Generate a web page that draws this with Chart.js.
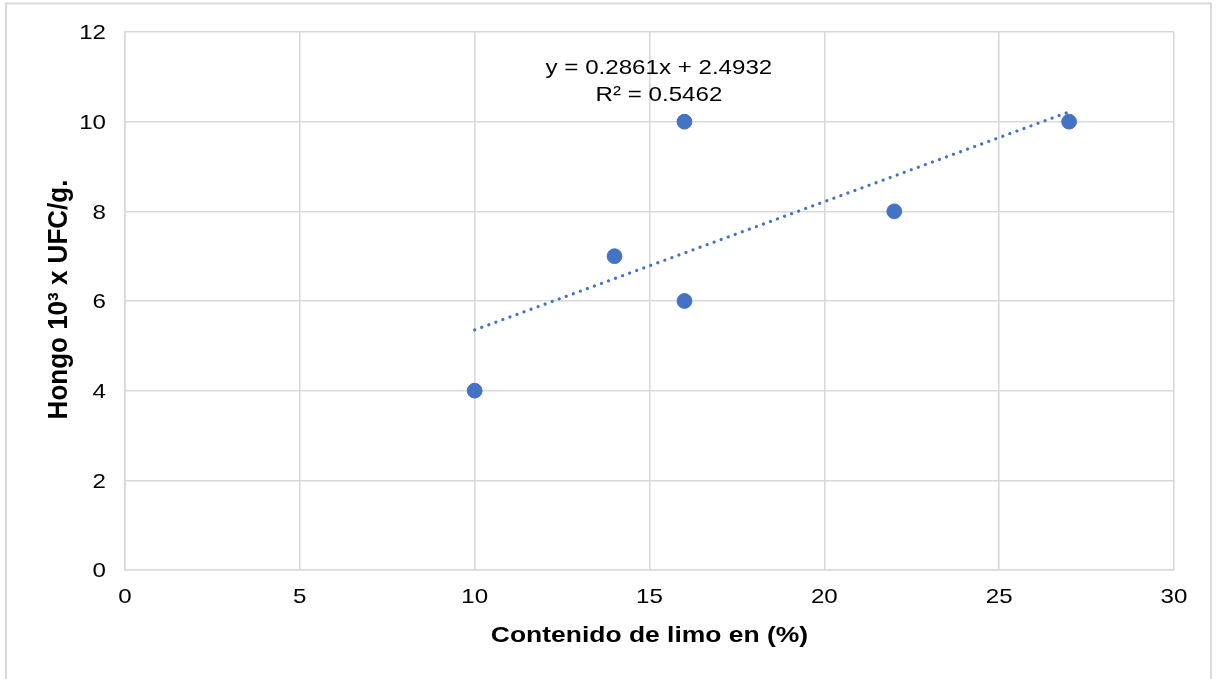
<!DOCTYPE html>
<html>
<head>
<meta charset="utf-8">
<title>Hongo vs limo</title>
<script src="https://cdn.jsdelivr.net/npm/chart.js@4"></script>
<style>
  html, body { margin: 0; padding: 0; background: #ffffff; }
  #wrap { position: relative; width: 1216px; height: 679px; }
</style>
</head>
<body>
<div id="wrap"><canvas id="c" width="1216" height="679"></canvas></div>
<script>
// Contenido de limo (%) and fungal counts (10^3 UFC/g)
const limo = [10, 14, 16, 16, 22, 27];
const hongo = [4, 7, 6, 10, 8, 10];

// Linear trendline reported for the series
const slope = 0.2861;
const intercept = 2.4932;
const r2 = 0.5462;
const trendX = [10, 27];

// Axis ranges and tick steps
const xRange = [0, 30];
const xStep = 5;
const yRange = [0, 12];
const yStep = 2;

// Axis titles
const xTitle = 'Contenido de limo en (%)';
const yTitle = 'Hongo 10³ x UFC/g.';

const blue = '#4472C4';
const gridColor = '#d9d9d9';
const txt = '#000000';
const fontFam = '"Liberation Sans", Arial, sans-serif';
const wide = 1.16;          // horizontal widening of the lettering
const tickPx = 20.8;
const titlePx = 22.8;

const scatterData = limo.map((x, i) => ({ x: x, y: hongo[i] }));
const trendData = trendX.map(x => ({ x: x, y: slope * x + intercept }));

// Writes a line of text whose visual centre line sits at y
function wideText(ctx, str, x, y, px, bold, align) {
  ctx.save();
  ctx.font = (bold ? 'bold ' : '') + px + 'px ' + fontFam;
  ctx.fillStyle = txt;
  ctx.textBaseline = 'alphabetic';
  ctx.textAlign = align || 'center';
  ctx.translate(x, y + px * 0.358);
  ctx.scale(wide, 1);
  ctx.fillText(str, 0, 0);
  ctx.restore();
}

// Frame around the whole chart
const framePlugin = {
  id: 'frame',
  afterDraw(chart) {
    const ctx = chart.ctx;
    ctx.save();
    ctx.strokeStyle = gridColor;
    ctx.lineWidth = 2;
    ctx.strokeRect(6, 3.5, 1205, 700);
    ctx.restore();
  }
};

// Tick labels and axis titles, placed from the chart's scales
const axisTextPlugin = {
  id: 'axisText',
  afterDraw(chart) {
    const ctx = chart.ctx;
    const xs = chart.scales.x, ys = chart.scales.y;
    const area = chart.chartArea;
    xs.ticks.forEach(t => {
      wideText(ctx, String(t.value), xs.getPixelForValue(t.value), area.bottom + 25.5, tickPx, false, 'center');
    });
    ys.ticks.forEach(t => {
      wideText(ctx, String(t.value), area.left - 19, ys.getPixelForValue(t.value), tickPx, false, 'right');
    });
    wideText(ctx, xTitle, (area.left + area.right) / 2, 634, titlePx, true, 'center');

    // vertical title: rotated, lettering widened across its height
    ctx.save();
    ctx.font = 'bold 26px ' + fontFam;
    ctx.fillStyle = txt;
    ctx.textAlign = 'center';
    ctx.textBaseline = 'alphabetic';
    ctx.translate(57, 299.5);
    ctx.rotate(-Math.PI / 2);
    ctx.scale(1, 1.06);
    ctx.fillText(yTitle, 0, 26 * 0.358);
    ctx.restore();
  }
};

// Equation and R² label
const eqPlugin = {
  id: 'equation',
  afterDatasetsDraw(chart) {
    const ctx = chart.ctx;
    const xs = chart.scales.x, ys = chart.scales.y;
    const cx = xs.getPixelForValue(15.27);
    const y1 = ys.getPixelForValue(11.235);
    wideText(ctx, 'y = ' + slope.toFixed(4) + 'x + ' + intercept.toFixed(4), cx, y1, tickPx, false, 'center');
    wideText(ctx, 'R² = ' + r2.toFixed(4), cx, y1 + 27, tickPx, false, 'center');
  }
};

new Chart(document.getElementById('c'), {
  type: 'scatter',
  data: {
    datasets: [
      {
        label: 'Tendencia',
        type: 'line',
        data: trendData,
        borderColor: blue,
        borderWidth: 3.2,
        borderDash: [0.1, 7.4],
        borderCapStyle: 'round',
        pointRadius: 0,
        fill: false,
        order: 2
      },
      {
        label: 'Hongo',
        data: scatterData,
        backgroundColor: blue,
        borderColor: blue,
        pointRadius: 7.4,
        pointHoverRadius: 7.4,
        order: 1
      }
    ]
  },
  options: {
    responsive: false,
    animation: false,
    events: [],
    layout: { padding: { left: 0, top: 32, right: 42, bottom: 0 } },
    plugins: {
      legend: { display: false },
      tooltip: { enabled: false }
    },
    scales: {
      x: {
        type: 'linear',
        min: xRange[0], max: xRange[1],
        ticks: { stepSize: xStep, display: false },
        grid: { color: gridColor, lineWidth: 1.6, drawTicks: false },
        border: { display: true, color: gridColor, width: 1.6 },
        title: { display: false },
        afterFit(scale) { scale.height = 109; }
      },
      y: {
        type: 'linear',
        min: yRange[0], max: yRange[1],
        ticks: { stepSize: yStep, display: false },
        grid: { color: gridColor, lineWidth: 1.6, drawTicks: false },
        border: { display: true, color: gridColor, width: 1.6 },
        title: { display: false },
        afterFit(scale) { scale.width = 125; }
      }
    }
  },
  plugins: [framePlugin, axisTextPlugin, eqPlugin]
});
</script>
</body>
</html>
